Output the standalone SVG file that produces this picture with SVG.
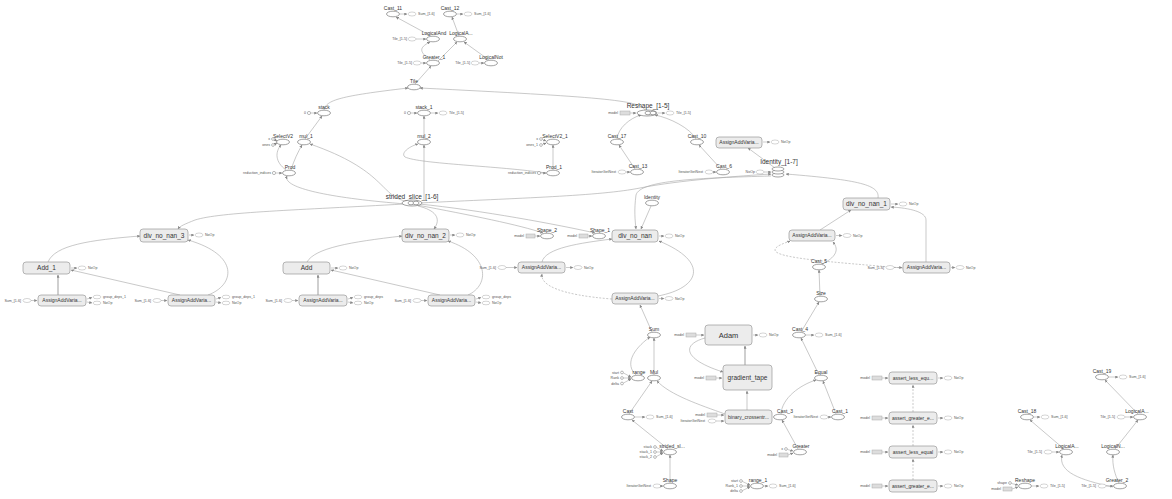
<svg xmlns="http://www.w3.org/2000/svg" width="1172" height="499" viewBox="0 0 1172 499">
<style>
.o{fill:#fff;stroke:#666;stroke-width:.6}
.m{fill:#ececec;stroke:#999;stroke-width:.7}
.s{fill:#fff;stroke:#aaa;stroke-width:.5}
.g{fill:#ddd;stroke:#aaa;stroke-width:.5}
.c{fill:#fff;stroke:#777;stroke-width:.5}
.l{font-family:"Liberation Sans",Arial,sans-serif;font-size:5px;fill:#333;text-anchor:middle}
.b{font-size:6.5px}
.a7{font-size:7.5px}
.t{font-family:"Liberation Sans",Arial,sans-serif;font-size:3.6px;fill:#555}
.te{text-anchor:end}
.e{fill:none;stroke:#a5a5a5;stroke-width:.6;marker-end:url(#a)}
.d{stroke-dasharray:2 1.5}
.k{stroke-width:1.4;stroke:#bbb}
.sa{fill:none;stroke:#999;stroke-width:.5;marker-end:url(#a)}
</style>
<defs>
<marker id="a" viewBox="0 0 6 6" refX="5.5" refY="3" markerWidth="3" markerHeight="3" markerUnits="userSpaceOnUse" orient="auto"><path d="M0,0L6,3L0,6z" fill="#888"/></marker>
</defs>
<rect width="1172" height="499" fill="#fff"/>
<g id="edges">
<path class="e" d="M431,36L396,17"/>
<path class="e" d="M459,36L452,17"/>
<path class="e" d="M430,60C420,52 418,48 430,42"/>
<path class="e" d="M438,61L457,42"/>
<path class="e" d="M489,60L464,42"/>
<path class="e" d="M415,84L431,66"/>
<path class="e" d="M324,110C326,100 340,96 408,88"/>
<path class="e" d="M645,110C640,100 600,97 420,88"/>
<path class="e" d="M305,139L322,116"/>
<path class="e" d="M291,170C294,160 298,152 302,145"/>
<path class="e" d="M286,170C275,162 275,152 281,145"/>
<path class="e" d="M405,201C380,195 385,170 310,144"/>
<path class="e" d="M406,204C330,198 282,188 287,176"/>
<path class="e" d="M424,139L424,116"/>
<path class="e" d="M424,200L424,145"/>
<path class="e" d="M546,173C500,166 420,164 405,157C400,153 410,146 418,144"/>
<path class="e" d="M553,170L553,145"/>
<path class="e" d="M419,203C520,198 600,196 640,188C680,180 740,176 771,174"/>
<path class="e" d="M771,176C700,178 640,180 636,195C634,210 635,220 636,229"/>
<path class="e" d="M651,206L641,229"/>
<path class="e" d="M878,198C880,185 860,180 786,174"/>
<path class="e" d="M775,168L748,148"/>
<path class="e" d="M617,139C618,128 630,118 641,115"/>
<path class="e" d="M696,139C690,128 670,118 655,115"/>
<path class="e" d="M635,169L619,145"/>
<path class="e" d="M721,169L699,145"/>
<path class="e" d="M417,205C470,215 520,225 543,233"/>
<path class="e" d="M419,204C480,210 560,225 595,233"/>
<path class="e" d="M418,206C435,210 442,218 434,229"/>
<path class="e" d="M404,204C300,210 220,212 195,220C185,224 180,226 178,229"/>
<path class="e" d="M48,262C55,245 90,240 140,236"/>
<path class="e" d="M208,295C235,285 240,255 188,240"/>
<path class="e k" d="M58,295L58,275"/>
<path class="e" d="M180,295L71,270"/>
<path class="e" d="M307,262C315,248 350,242 402,236"/>
<path class="e" d="M468,295C490,285 490,255 448,241"/>
<path class="e k" d="M318,295L318,275"/>
<path class="e" d="M440,295L331,270"/>
<path class="e" d="M542,262C545,248 580,243 612,239"/>
<path class="e" d="M658,296C700,288 710,262 659,241"/>
<path class="e d" d="M612,299C560,295 540,285 542,274"/>
<path class="e" d="M652,332L640,305"/>
<path class="e" d="M636,375C625,365 632,350 650,337"/>
<path class="e" d="M654,375L654,338"/>
<path class="e" d="M629,414L652,381"/>
<path class="e" d="M725,414C700,405 670,395 657,381"/>
<path class="e" d="M747,410L747,391"/>
<path class="e k" d="M745,365L745,346"/>
<path class="e" d="M705,338C680,345 685,360 723,372"/>
<path class="e" d="M668,449L632,420"/>
<path class="e" d="M670,483L670,455"/>
<path class="e" d="M798,449L782,420"/>
<path class="e" d="M781,414C782,398 800,385 816,380"/>
<path class="e" d="M836,414L823,381"/>
<path class="e" d="M819,375L801,338"/>
<path class="e" d="M801,332L819,302"/>
<path class="e" d="M820,296L819,270"/>
<path class="e" d="M822,264C835,258 840,250 833,242"/>
<path class="e d" d="M903,268C830,262 775,258 775,250C775,246 785,243 790,241"/>
<path class="e" d="M820,230L851,210"/>
<path class="e" d="M926,262L926,220C926,212 910,208 891,207"/>
<path class="e d" d="M913,480L913,459"/>
<path class="e d" d="M913,446L913,425"/>
<path class="e d" d="M913,412L913,385"/>
<path class="e" d="M1064,449L1030,420"/>
<path class="e" d="M1138,414L1105,380"/>
<path class="e" d="M1115,449L1138,420"/>
<path class="e" d="M1119,483C1115,475 1112,465 1113,455"/>
<path class="e" d="M1113,487C1080,480 1058,472 1062,455"/>
</g>
<g id="Cast_11"><text class="l" x="393" y="9.5">Cast_11</text><ellipse class="o" cx="393" cy="14" rx="6.5" ry="2.8"/><path class="sa" d="M400,14H407"/><ellipse class="s" cx="412" cy="14" rx="4" ry="2"/><text class="t" x="418" y="15.2">Sum_[1-6]</text></g>
<g id="Cast_12"><text class="l" x="450" y="9.5">Cast_12</text><ellipse class="o" cx="450" cy="14" rx="6.5" ry="2.8"/><path class="sa" d="M457,14H463"/><ellipse class="s" cx="468" cy="14" rx="4" ry="2"/><text class="t" x="474" y="15.2">Sum_[1-6]</text></g>
<g id="LogicalAnd"><text class="l" x="434" y="34.5">LogicalAnd</text><ellipse class="o" cx="433" cy="39" rx="6.5" ry="2.8"/><ellipse class="s" cx="412" cy="39" rx="4" ry="2"/><text class="t te" x="407" y="40.2">Tile_[1-5]</text><path class="sa" d="M416,39H426"/></g>
<g id="LogicalA_top"><text class="l" x="461" y="34.5">LogicalA...</text><ellipse class="o" cx="460" cy="39" rx="6.5" ry="2.8"/></g>
<g id="Greater_1"><text class="l" x="434" y="58.5">Greater_1</text><ellipse class="o" cx="433" cy="63" rx="6.5" ry="2.8"/><ellipse class="s" cx="417" cy="63" rx="4" ry="2"/><text class="t te" x="412" y="64.2">Tile_[1-5]</text><path class="sa" d="M421,63H426"/></g>
<g id="LogicalNot"><text class="l" x="491" y="58.5">LogicalNot</text><ellipse class="o" cx="491" cy="63" rx="6.5" ry="2.8"/><ellipse class="s" cx="475" cy="63" rx="4" ry="2"/><text class="t te" x="470" y="64.2">Tile_[1-5]</text><path class="sa" d="M479,63H484"/></g>
<g id="Tile"><text class="l" x="414" y="82.5">Tile</text><ellipse class="o" cx="414" cy="87" rx="6.5" ry="2.8"/></g>
<g id="stack"><text class="l" x="324" y="108.5">stack</text><ellipse class="o" cx="324" cy="113" rx="6.5" ry="2.8"/><circle class="c" cx="309" cy="113" r="1.6"/><text class="t te" x="306" y="114.2">0</text><path class="sa" d="M311,113H317"/></g>
<g id="stack_1"><text class="l" x="424" y="108.5">stack_1</text><ellipse class="o" cx="424" cy="113" rx="6.5" ry="2.8"/><circle class="c" cx="409" cy="113" r="1.6"/><text class="t te" x="406" y="114.2">0</text><path class="sa" d="M411,113H417"/><path class="sa" d="M431,113H438"/><ellipse class="s" cx="443" cy="113" rx="4" ry="2"/><text class="t" x="449" y="114.2">Tile_[1-5]</text></g>
<g id="SelectV2"><text class="l" x="283" y="137.5">SelectV2</text><ellipse class="o" cx="283" cy="142" rx="6.5" ry="2.8"/><circle class="c" cx="273" cy="139" r="1.4"/><text class="t te" x="270" y="140.2">x</text><circle class="c" cx="273" cy="145" r="1.4"/><text class="t te" x="270" y="146.2">ones</text><path class="sa" d="M274.5,139.5L277,141"/><path class="sa" d="M274.5,144.5L277,143"/></g>
<g id="mul_1"><text class="l" x="306" y="137.5">mul_1</text><ellipse class="o" cx="304" cy="142" rx="6.5" ry="2.8"/></g>
<g id="Prod"><text class="l" x="290" y="168.5">Prod</text><ellipse class="o" cx="289" cy="173" rx="6.5" ry="2.8"/><circle class="c" cx="274" cy="173" r="1.6"/><text class="t te" x="271" y="174.2">reduction_indices</text><path class="sa" d="M276,173H282"/></g>
<g id="mul_2"><text class="l" x="424" y="137.5">mul_2</text><ellipse class="o" cx="424" cy="142" rx="6.5" ry="2.8"/></g>
<g id="SelectV2_1"><text class="l" x="555" y="137.5">SelectV2_1</text><ellipse class="o" cx="553" cy="142" rx="6.5" ry="2.8"/><circle class="c" cx="541" cy="139" r="1.4"/><text class="t te" x="538" y="140.2">x</text><circle class="c" cx="541" cy="145" r="1.4"/><text class="t te" x="538" y="146.2">ones_1</text><path class="sa" d="M542.5,139.5L546,141"/><path class="sa" d="M542.5,144.5L546,143"/></g>
<g id="Prod_1"><text class="l" x="554" y="168.5">Prod_1</text><ellipse class="o" cx="553" cy="173" rx="6.5" ry="2.8"/><circle class="c" cx="539" cy="173" r="1.6"/><text class="t te" x="536" y="174.2">reduction_indices</text><path class="sa" d="M541,173H546"/></g>
<g id="strided_slice_1-6"><text class="l b" x="412" y="198.5">strided_slice_[1-6]</text><ellipse class="o" cx="412" cy="203" rx="10" ry="3"/><ellipse class="o" cx="411" cy="203" rx="3" ry="1.8"/><ellipse class="o" cx="416" cy="203" rx="3" ry="1.8"/></g>
<g id="Reshape_1-5"><text class="l b" x="648" y="107.5">Reshape_[1-5]</text><ellipse class="o" cx="647" cy="113" rx="10" ry="3"/><ellipse class="o" cx="648" cy="113" rx="3" ry="1.8"/><ellipse class="o" cx="653" cy="113" rx="3" ry="1.8"/><rect class="g" x="620" y="111" width="10" height="4"/><text class="t te" x="618" y="114.2">model</text><path class="sa" d="M630,113H636"/><path class="sa" d="M658,113H665"/><ellipse class="s" cx="670" cy="113" rx="4" ry="2"/><text class="t" x="676" y="114.2">Tile_[1-5]</text></g>
<g id="Cast_17"><text class="l" x="617" y="137.5">Cast_17</text><ellipse class="o" cx="617" cy="142" rx="6.5" ry="2.8"/></g>
<g id="Cast_10"><text class="l" x="697" y="137.5">Cast_10</text><ellipse class="o" cx="697" cy="142" rx="6.5" ry="2.8"/></g>
<g id="AssignAdd_top"><rect class="m" x="716" y="137" width="46" height="11" rx="3"/><text class="l" x="739" y="144.2">AssignAddVaria...</text><path class="sa" d="M763,142H770"/><ellipse class="s" cx="775" cy="142" rx="4" ry="2"/><text class="t" x="781" y="143.2">NoOp</text></g>
<g id="Cast_13"><text class="l" x="638" y="167.5">Cast_13</text><ellipse class="o" cx="637" cy="172" rx="6.5" ry="2.8"/><ellipse class="s" cx="622" cy="172" rx="4" ry="2"/><text class="t te" x="616" y="173.2">IteratorGetNext</text><path class="sa" d="M626,172H630"/></g>
<g id="Cast_6"><text class="l" x="724" y="167.5">Cast_6</text><ellipse class="o" cx="723" cy="172" rx="6.5" ry="2.8"/><ellipse class="s" cx="709" cy="172" rx="4" ry="2"/><text class="t te" x="703" y="173.2">IteratorGetNext</text><path class="sa" d="M713,172H716"/></g>
<g id="Identity_1-7"><text class="l b" x="779" y="164">Identity_[1-7]</text><ellipse class="o" cx="778" cy="175" rx="6" ry="2"/><ellipse class="o" cx="778" cy="172" rx="6" ry="2"/><ellipse class="o" cx="778" cy="169" rx="6" ry="2"/><ellipse class="s" cx="760" cy="172" rx="4" ry="2"/><text class="t te" x="755" y="173.2">NoOp</text><path class="sa" d="M764,172H771"/></g>
<g id="Identity"><text class="l" x="652" y="198.5">Identity</text><ellipse class="o" cx="652" cy="203" rx="6.5" ry="2.8"/></g>
<g id="Shape_2"><text class="l" x="547" y="231.5">Shape_2</text><ellipse class="o" cx="547" cy="236" rx="6.5" ry="2.8"/><rect class="g" x="526" y="234" width="9" height="4"/><text class="t te" x="524" y="237.2">model</text><path class="sa" d="M535,236H540"/></g>
<g id="Shape_1"><text class="l" x="600" y="231.5">Shape_1</text><ellipse class="o" cx="599" cy="236" rx="6.5" ry="2.8"/><rect class="g" x="579" y="234" width="9" height="4"/><text class="t te" x="577" y="237.2">model</text><path class="sa" d="M588,236H592"/></g>
<g id="div_no_nan"><rect class="m" x="612" y="230" width="46" height="12" rx="3"/><text class="l b" x="635" y="238.3">div_no_nan</text><path class="sa" d="M659,236H664"/><ellipse class="s" cx="669" cy="236" rx="4" ry="2"/><text class="t" x="675" y="237.2">NoOp</text></g>
<g id="div_no_nan_1"><rect class="m" x="843" y="198" width="47" height="12" rx="3"/><text class="l b" x="866.5" y="206.3">div_no_nan_1</text><path class="sa" d="M891,204H898"/><ellipse class="s" cx="903" cy="204" rx="4" ry="2"/><text class="t" x="909" y="205.2">NoOp</text></g>
<g id="div_no_nan_2"><rect class="m" x="402" y="229" width="47" height="13" rx="3"/><text class="l b" x="425.5" y="237.8">div_no_nan_2</text><path class="sa" d="M450,235H455"/><ellipse class="s" cx="460" cy="235" rx="4" ry="2"/><text class="t" x="466" y="236.2">NoOp</text></g>
<g id="div_no_nan_3"><rect class="m" x="140" y="229" width="48" height="13" rx="3"/><text class="l b" x="164" y="237.8">div_no_nan_3</text><path class="sa" d="M189,235H194"/><ellipse class="s" cx="199" cy="235" rx="4" ry="2"/><text class="t" x="205" y="236.2">NoOp</text></g>
<g id="Add_1"><rect class="m" x="23" y="262" width="47" height="12" rx="3"/><text class="l b" x="46.5" y="270.3">Add_1</text><path class="sa" d="M71,268H77"/><ellipse class="s" cx="82" cy="268" rx="4" ry="2"/><text class="t" x="88" y="269.2">NoOp</text></g>
<g id="Add"><rect class="m" x="283" y="262" width="47" height="12" rx="3"/><text class="l b" x="306.5" y="270.3">Add</text><path class="sa" d="M331,268H338"/><ellipse class="s" cx="343" cy="268" rx="4" ry="2"/><text class="t" x="349" y="269.2">NoOp</text></g>
<g id="AssignAdd_A"><rect class="m" x="38" y="295" width="48" height="11" rx="3"/><text class="l" x="62" y="302.2">AssignAddVaria...</text><ellipse class="s" cx="27" cy="300.5" rx="4" ry="2"/><text class="t te" x="21" y="301.7">Sum_[1-6]</text><path class="sa" d="M31,300.5H37"/><path class="sa" d="M87,299L92,297.5"/><path class="sa" d="M87,302L92,303"/><ellipse class="s" cx="97" cy="297" rx="4" ry="1.8"/><ellipse class="s" cx="97" cy="303" rx="4" ry="1.8"/><text class="t" x="103" y="298.2">group_deps_1</text><text class="t" x="103" y="304.2">NoOp</text></g>
<g id="AssignAdd_B"><rect class="m" x="168" y="295" width="47" height="11" rx="3"/><text class="l" x="191.5" y="302.2">AssignAddVaria...</text><ellipse class="s" cx="157" cy="300.5" rx="4" ry="2"/><text class="t te" x="151" y="301.7">Sum_[1-6]</text><path class="sa" d="M161,300.5H167"/><path class="sa" d="M216,299L221,297.5"/><path class="sa" d="M216,302L221,303"/><ellipse class="s" cx="226" cy="297" rx="4" ry="1.8"/><ellipse class="s" cx="226" cy="303" rx="4" ry="1.8"/><text class="t" x="232" y="298.2">group_deps_1</text><text class="t" x="232" y="304.2">NoOp</text></g>
<g id="AssignAdd_C"><rect class="m" x="299" y="295" width="48" height="11" rx="3"/><text class="l" x="323" y="302.2">AssignAddVaria...</text><ellipse class="s" cx="288" cy="300.5" rx="4" ry="2"/><text class="t te" x="282" y="301.7">Sum_[1-6]</text><path class="sa" d="M292,300.5H298"/><path class="sa" d="M348,299L353,297.5"/><path class="sa" d="M348,302L353,303"/><ellipse class="s" cx="358" cy="297" rx="4" ry="1.8"/><ellipse class="s" cx="358" cy="303" rx="4" ry="1.8"/><text class="t" x="364" y="298.2">group_deps</text><text class="t" x="364" y="304.2">NoOp</text></g>
<g id="AssignAdd_D"><rect class="m" x="428" y="295" width="47" height="11" rx="3"/><text class="l" x="451.5" y="302.2">AssignAddVaria...</text><ellipse class="s" cx="417" cy="300.5" rx="4" ry="2"/><text class="t te" x="411" y="301.7">Sum_[1-6]</text><path class="sa" d="M421,300.5H427"/><path class="sa" d="M476,299L481,297.5"/><path class="sa" d="M476,302L481,303"/><ellipse class="s" cx="486" cy="297" rx="4" ry="1.8"/><ellipse class="s" cx="486" cy="303" rx="4" ry="1.8"/><text class="t" x="492" y="298.2">group_deps</text><text class="t" x="492" y="304.2">NoOp</text></g>
<g id="AssignAdd_E"><rect class="m" x="518" y="262" width="47" height="11" rx="3"/><text class="l" x="541.5" y="269.2">AssignAddVaria...</text><ellipse class="s" cx="502" cy="267.5" rx="4" ry="2"/><text class="t te" x="496" y="268.7">Sum_[1-6]</text><path class="sa" d="M506,267.5H517"/><path class="sa" d="M566,267.5H573"/><ellipse class="s" cx="578" cy="267.5" rx="4" ry="2"/><text class="t" x="584" y="268.7">NoOp</text></g>
<g id="AssignAdd_F"><rect class="m" x="612" y="293" width="46" height="11" rx="3"/><text class="l" x="635" y="300.2">AssignAddVaria...</text><path class="sa" d="M659,298.5H664"/><ellipse class="s" cx="669" cy="298.5" rx="4" ry="2"/><text class="t" x="675" y="299.7">NoOp</text></g>
<g id="AssignAdd_G"><rect class="m" x="789" y="230" width="46" height="11" rx="3"/><text class="l" x="812" y="237.2">AssignAddVaria...</text><path class="sa" d="M836,235.5H842"/><ellipse class="s" cx="847" cy="235.5" rx="4" ry="2"/><text class="t" x="853" y="236.7">NoOp</text></g>
<g id="AssignAdd_H"><rect class="m" x="903" y="262" width="47" height="11" rx="3"/><text class="l" x="926.5" y="269.2">AssignAddVaria...</text><ellipse class="s" cx="890" cy="267.5" rx="4" ry="2"/><text class="t te" x="884" y="268.7">Sum_[1-6]</text><path class="sa" d="M894,267.5H902"/><path class="sa" d="M951,267.5H955"/><ellipse class="s" cx="960" cy="267.5" rx="4" ry="2"/><text class="t" x="966" y="268.7">NoOp</text></g>
<g id="Cast_5"><text class="l" x="819" y="262.5">Cast_5</text><ellipse class="o" cx="819" cy="267" rx="6.5" ry="2.8"/></g>
<g id="Size"><text class="l" x="821" y="294.5">Size</text><ellipse class="o" cx="821" cy="299" rx="6.5" ry="2.8"/></g>
<g id="Cast_4"><text class="l" x="800" y="330.5">Cast_4</text><ellipse class="o" cx="799" cy="335" rx="6.5" ry="2.8"/><path class="sa" d="M806,335H814"/><ellipse class="s" cx="819" cy="335" rx="4" ry="2"/><text class="t" x="825" y="336.2">Sum_[1-6]</text></g>
<g id="Sum"><text class="l" x="654" y="330.5">Sum</text><ellipse class="o" cx="654" cy="335" rx="6.5" ry="2.8"/></g>
<g id="Adam"><rect class="m" x="705" y="325" width="47" height="20" rx="3"/><text class="l a7" x="728.5" y="337.7">Adam</text><rect class="g" x="686" y="333" width="10" height="4"/><text class="t te" x="684" y="336.2">model</text><path class="sa" d="M696,335H704"/><path class="sa" d="M753,335H758"/><ellipse class="s" cx="763" cy="335" rx="4" ry="2"/><text class="t" x="769" y="336.2">NoOp</text></g>
<g id="gradient_tape"><rect class="m" x="723" y="365" width="49" height="25" rx="3"/><text class="l b" x="747.5" y="380.2">gradient_tape</text><rect class="g" x="706" y="376" width="10" height="4"/><text class="t te" x="704" y="379.2">model</text><path class="sa" d="M716,378H722"/></g>
<g id="range"><text class="l" x="639" y="373.5">range</text><ellipse class="o" cx="638" cy="378" rx="6.5" ry="2.8"/><circle class="c" cx="622" cy="372.5" r="1.4"/><text class="t te" x="619" y="373.7">start</text><circle class="c" cx="622" cy="378" r="1.4"/><text class="t te" x="619" y="379.2">Rank</text><circle class="c" cx="622" cy="383.5" r="1.4"/><text class="t te" x="619" y="384.7">delta</text><path class="sa" d="M623.5,373L631,377"/><path class="sa" d="M623.5,378H631"/><path class="sa" d="M623.5,383L631,379"/></g>
<g id="Mul"><text class="l" x="654" y="373.5">Mul</text><ellipse class="o" cx="654" cy="378" rx="6.5" ry="2.8"/></g>
<g id="Equal"><text class="l" x="821" y="373.5">Equal</text><ellipse class="o" cx="821" cy="378" rx="6.5" ry="2.8"/></g>
<g id="Cast"><text class="l" x="628" y="412.5">Cast</text><ellipse class="o" cx="628" cy="417" rx="6.5" ry="2.8"/><path class="sa" d="M635,417H645"/><ellipse class="s" cx="650" cy="417" rx="4" ry="2"/><text class="t" x="656" y="418.2">Sum_[1-6]</text></g>
<g id="binary_crossentropy"><rect class="m" x="725" y="410" width="47" height="14" rx="3"/><text class="l" x="748.5" y="418.7">binary_crossentr...</text><rect class="g" x="707" y="413" width="10" height="4"/><text class="t te" x="705" y="416.2">model</text><ellipse class="s" cx="712" cy="421" rx="4" ry="2"/><text class="t te" x="705" y="422.2">IteratorGetNext</text><path class="sa" d="M717,415H724"/><path class="sa" d="M716,421H724"/></g>
<g id="Cast_3"><text class="l" x="785" y="412.5">Cast_3</text><ellipse class="o" cx="780" cy="417" rx="6.5" ry="2.8"/></g>
<g id="Cast_1"><text class="l" x="840" y="412.5">Cast_1</text><ellipse class="o" cx="838" cy="417" rx="6.5" ry="2.8"/><ellipse class="s" cx="824" cy="417" rx="4" ry="2"/><text class="t te" x="818" y="418.2">IteratorGetNext</text><path class="sa" d="M828,417H831"/></g>
<g id="Greater"><text class="l" x="801" y="447.5">Greater</text><ellipse class="o" cx="800" cy="452" rx="6.5" ry="2.8"/><circle class="c" cx="786" cy="449" r="1.4"/><text class="t te" x="783" y="450.2">x</text><rect class="g" x="779" y="453" width="9" height="4"/><text class="t te" x="777" y="456.2">model</text><path class="sa" d="M787.5,449.5L793,451"/><path class="sa" d="M788,455L793,453"/></g>
<g id="strided_slice"><text class="l" x="672" y="447.5">strided_sl...</text><ellipse class="o" cx="670" cy="452" rx="6.5" ry="2.8"/><circle class="c" cx="655" cy="447" r="1.4"/><text class="t te" x="652" y="448.2">stack</text><circle class="c" cx="655" cy="452" r="1.4"/><text class="t te" x="652" y="453.2">stack_1</text><circle class="c" cx="655" cy="457" r="1.4"/><text class="t te" x="652" y="458.2">stack_2</text><path class="sa" d="M656.5,447.5L663,451"/><path class="sa" d="M656.5,452H663"/><path class="sa" d="M656.5,456.5L663,453"/></g>
<g id="Shape"><text class="l" x="670" y="481.5">Shape</text><ellipse class="o" cx="670" cy="486" rx="6.5" ry="2.8"/><ellipse class="s" cx="657" cy="486" rx="4" ry="2"/><text class="t te" x="651" y="487.2">IteratorGetNext</text><path class="sa" d="M661,486H663"/></g>
<g id="range_1"><text class="l" x="758" y="481.5">range_1</text><ellipse class="o" cx="757" cy="486" rx="6.5" ry="2.8"/><circle class="c" cx="741" cy="481" r="1.4"/><text class="t te" x="738" y="482.2">start</text><circle class="c" cx="741" cy="486" r="1.4"/><text class="t te" x="738" y="487.2">Rank_1</text><circle class="c" cx="741" cy="491" r="1.4"/><text class="t te" x="738" y="492.2">delta</text><path class="sa" d="M742.5,481.5L750,485"/><path class="sa" d="M742.5,486H750"/><path class="sa" d="M742.5,490.5L750,487"/><path class="sa" d="M764,486H768"/><ellipse class="s" cx="773" cy="486" rx="4" ry="2"/><text class="t" x="779" y="487.2">Sum_[1-6]</text></g>
<g id="assert_less_equal_1"><rect class="m" x="889" y="372" width="48" height="12" rx="3"/><text class="l" x="913" y="379.8">assert_less_equ...</text><rect class="g" x="872" y="376" width="10" height="4"/><text class="t te" x="870" y="379.2">model</text><path class="sa" d="M882,378H888"/><path class="sa" d="M938,378H943"/><ellipse class="s" cx="948" cy="378" rx="4" ry="2"/><text class="t" x="954" y="379.2">NoOp</text></g>
<g id="assert_greater_equal_1"><rect class="m" x="889" y="412" width="48" height="12" rx="3"/><text class="l" x="913" y="419.8">assert_greater_e...</text><rect class="g" x="872" y="416" width="10" height="4"/><text class="t te" x="870" y="419.2">model</text><path class="sa" d="M882,418H888"/><path class="sa" d="M938,418H943"/><ellipse class="s" cx="948" cy="418" rx="4" ry="2"/><text class="t" x="954" y="419.2">NoOp</text></g>
<g id="assert_less_equal"><rect class="m" x="889" y="446" width="48" height="12" rx="3"/><text class="l" x="913" y="453.8">assert_less_equal</text><rect class="g" x="872" y="450" width="10" height="4"/><text class="t te" x="870" y="453.2">model</text><path class="sa" d="M882,452H888"/><path class="sa" d="M938,452H943"/><ellipse class="s" cx="948" cy="452" rx="4" ry="2"/><text class="t" x="954" y="453.2">NoOp</text></g>
<g id="assert_greater_equal"><rect class="m" x="889" y="480" width="48" height="12" rx="3"/><text class="l" x="913" y="487.8">assert_greater_e...</text><rect class="g" x="872" y="484" width="10" height="4"/><text class="t te" x="870" y="487.2">model</text><path class="sa" d="M882,486H888"/><path class="sa" d="M938,486H943"/><ellipse class="s" cx="948" cy="486" rx="4" ry="2"/><text class="t" x="954" y="487.2">NoOp</text></g>
<g id="Cast_19"><text class="l" x="1102" y="372.5">Cast_19</text><ellipse class="o" cx="1102" cy="377" rx="6.5" ry="2.8"/><path class="sa" d="M1109,377H1118"/><ellipse class="s" cx="1123" cy="377" rx="4" ry="2"/><text class="t" x="1129" y="378.2">Sum_[1-6]</text></g>
<g id="LogicalA_r"><text class="l" x="1137" y="412.5">LogicalA...</text><ellipse class="o" cx="1140" cy="417" rx="6.5" ry="2.8"/><ellipse class="s" cx="1121" cy="417" rx="4" ry="2"/><text class="t te" x="1115" y="418.2">Tile_[1-5]</text><path class="sa" d="M1125,417H1133"/></g>
<g id="Cast_18"><text class="l" x="1027" y="412.5">Cast_18</text><ellipse class="o" cx="1027" cy="417" rx="6.5" ry="2.8"/><path class="sa" d="M1034,417H1040"/><ellipse class="s" cx="1045" cy="417" rx="4" ry="2"/><text class="t" x="1051" y="418.2">Sum_[1-6]</text></g>
<g id="LogicalA_l"><text class="l" x="1067" y="447.5">LogicalA...</text><ellipse class="o" cx="1066" cy="452" rx="6.5" ry="2.8"/><ellipse class="s" cx="1048" cy="452" rx="4" ry="2"/><text class="t te" x="1042" y="453.2">Tile_[1-5]</text><path class="sa" d="M1052,452H1059"/></g>
<g id="LogicalN"><text class="l" x="1113" y="447.5">LogicalN...</text><ellipse class="o" cx="1113" cy="452" rx="6.5" ry="2.8"/></g>
<g id="Reshape"><text class="l" x="1025" y="481.5">Reshape</text><ellipse class="o" cx="1025" cy="486" rx="6.5" ry="2.8"/><circle class="c" cx="1010" cy="483" r="1.4"/><text class="t te" x="1007" y="484.2">shape</text><rect class="g" x="1003" y="487" width="9" height="4"/><text class="t te" x="1001" y="490.2">model</text><path class="sa" d="M1011.5,483.5L1018,485"/><path class="sa" d="M1012,489L1018,487"/><path class="sa" d="M1032,486H1039"/><ellipse class="s" cx="1044" cy="486" rx="4" ry="2"/><text class="t" x="1050" y="487.2">Tile_[1-5]</text></g>
<g id="Greater_2"><text class="l" x="1117" y="481.5">Greater_2</text><ellipse class="o" cx="1120" cy="486" rx="6.5" ry="2.8"/><ellipse class="s" cx="1102" cy="486" rx="4" ry="2"/><text class="t te" x="1096" y="487.2">Tile_[1-5]</text><path class="sa" d="M1106,486H1113"/></g>
</svg>
